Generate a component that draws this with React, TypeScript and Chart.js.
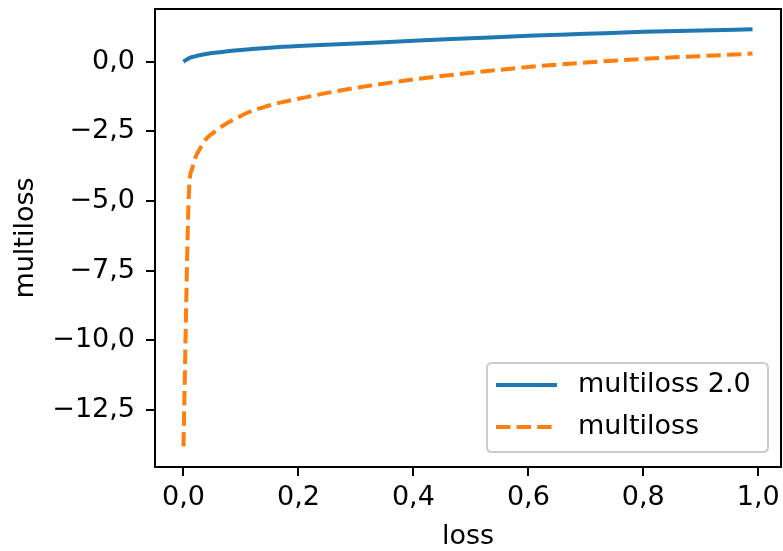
import { useEffect, useRef } from 'react';
import { Chart, registerables } from 'chart.js';

Chart.register(...registerables);

// ---- data ----
const blueLoss = [0, 0.01, 0.02, 0.03, 0.05, 0.07, 0.1, 0.15, 0.2, 0.3, 0.4, 0.5, 0.6, 0.7, 0.8, 0.9, 0.99];
const blueValues = [0.0, 0.13, 0.19, 0.24, 0.31, 0.36, 0.42, 0.5, 0.56, 0.65, 0.75, 0.84, 0.93, 1.0, 1.07, 1.12, 1.16];

const orangeLoss = [0, 0.01, 0.015, 0.02, 0.03, 0.04, 0.05, 0.07, 0.09, 0.11, 0.14, 0.17, 0.2, 0.25, 0.3, 0.4, 0.5, 0.6, 0.7, 0.8, 0.9, 0.99];
const orangeValues = [-13.8, -4.5, -3.85, -3.48, -3.07, -2.76, -2.58, -2.28, -2.05, -1.84, -1.63, -1.46, -1.33, -1.12, -0.94, -0.64, -0.4, -0.19, -0.03, 0.1, 0.2, 0.29];

const seriesLabels = ['multiloss 2.0', 'multiloss'];
const seriesColors = ['#1f77b4', '#ff7f0e'];

const xTicks = [0, 0.2, 0.4, 0.6, 0.8, 1.0];
const yTicks = [0, -2.5, -5, -7.5, -10, -12.5];

const xTitle = 'loss';
const yTitle = 'multiloss';

const FONT_FAMILY = "'DejaVu Sans', sans-serif";
const FONT_SIZE = 27;

const fmt = (v: number) => v.toFixed(1).replace('.', ',').replace('-', '\u2212');

const framePlugin = {
  id: 'frameAndLegend',
  afterDraw(chart: any) {
    const { ctx, chartArea: a } = chart;
    ctx.save();
    ctx.strokeStyle = '#000';
    ctx.lineWidth = 2;
    ctx.setLineDash([]);
    ctx.strokeRect(a.left, a.top, a.right - a.left, a.bottom - a.top);

    const w = 281;
    const h = 89;
    const x0 = a.right - 13 - w;
    const y0 = a.bottom - 15 - h;
    const r = 5;
    ctx.beginPath();
    ctx.moveTo(x0 + r, y0);
    ctx.lineTo(x0 + w - r, y0);
    ctx.quadraticCurveTo(x0 + w, y0, x0 + w, y0 + r);
    ctx.lineTo(x0 + w, y0 + h - r);
    ctx.quadraticCurveTo(x0 + w, y0 + h, x0 + w - r, y0 + h);
    ctx.lineTo(x0 + r, y0 + h);
    ctx.quadraticCurveTo(x0, y0 + h, x0, y0 + h - r);
    ctx.lineTo(x0, y0 + r);
    ctx.quadraticCurveTo(x0, y0, x0 + r, y0);
    ctx.closePath();
    ctx.fillStyle = 'rgba(255,255,255,0.8)';
    ctx.fill();
    ctx.strokeStyle = '#cccccc';
    ctx.lineWidth = 2;
    ctx.stroke();

    chart.data.datasets.forEach((ds: any, i: number) => {
      const y = y0 + 22 + i * 42;
      ctx.beginPath();
      ctx.strokeStyle = ds.borderColor;
      ctx.lineWidth = 4;
      ctx.setLineDash(ds.borderDash || []);
      ctx.moveTo(x0 + 9, y);
      ctx.lineTo(x0 + 70, y);
      ctx.stroke();
      ctx.setLineDash([]);
      ctx.fillStyle = '#000';
      ctx.font = `${FONT_SIZE}px ${FONT_FAMILY}`;
      ctx.textBaseline = 'middle';
      ctx.textAlign = 'left';
      ctx.fillText(ds.label, x0 + 91, y);
    });
    ctx.restore();
  },
};

export default function App() {
  const ref = useRef<HTMLCanvasElement | null>(null);

  useEffect(() => {
    document.body.style.margin = '0';
    const canvas = ref.current;
    if (!canvas) return;

    const chart = new Chart(canvas, {
      type: 'line',
      data: {
        datasets: [
          {
            label: seriesLabels[0],
            data: blueLoss.map((x, i) => ({ x, y: blueValues[i] })),
            borderColor: seriesColors[0],
            backgroundColor: seriesColors[0],
            borderWidth: 4,
            pointRadius: 0,
            cubicInterpolationMode: 'monotone',
            fill: false,
          },
          {
            label: seriesLabels[1],
            data: orangeLoss.map((x, i) => ({ x, y: orangeValues[i] })),
            borderColor: seriesColors[1],
            backgroundColor: seriesColors[1],
            borderWidth: 4,
            borderDash: [14.4, 6.2],
            pointRadius: 0,
            cubicInterpolationMode: 'monotone',
            fill: false,
          },
        ],
      },
      options: {
        animation: false,
        responsive: false,
        maintainAspectRatio: false,
        layout: { padding: { top: 9, right: 2, left: 0, bottom: 0 } },
        plugins: {
          legend: { display: false },
          tooltip: { enabled: false },
        },
        scales: {
          x: {
            type: 'linear',
            min: -0.0495,
            max: 1.0395,
            afterBuildTicks: (scale: any) => {
              scale.ticks = xTicks.map((v) => ({ value: v }));
            },
            afterFit: (scale: any) => {
              scale.height = 84;
              scale.paddingLeft = 0;
              scale.paddingRight = 0;
            },
            border: { display: false },
            grid: {
              display: true,
              drawOnChartArea: false,
              drawTicks: true,
              tickLength: 9,
              color: '#000',
              lineWidth: 2,
            },
            ticks: {
              color: '#000',
              padding: 6,
              maxRotation: 0,
              font: { family: FONT_FAMILY, size: FONT_SIZE },
              callback: (v: any) => fmt(Number(v)),
            },
            title: {
              display: true,
              text: xTitle,
              color: '#000',
              font: { family: FONT_FAMILY, size: FONT_SIZE },
              padding: { top: 0, bottom: -2 },
            },
          },
          y: {
            type: 'linear',
            min: -14.54,
            max: 1.89,
            afterBuildTicks: (scale: any) => {
              scale.ticks = yTicks.map((v) => ({ value: v }));
            },
            afterFit: (scale: any) => {
              scale.width = 155;
              scale.paddingTop = 0;
              scale.paddingBottom = 0;
            },
            border: { display: false },
            grid: {
              display: true,
              drawOnChartArea: false,
              drawTicks: true,
              tickLength: 9,
              color: '#000',
              lineWidth: 2,
            },
            ticks: {
              color: '#000',
              padding: 11,
              font: { family: FONT_FAMILY, size: FONT_SIZE },
              callback: (v: any) => fmt(Number(v)),
            },
            title: {
              display: true,
              text: yTitle,
              color: '#000',
              font: { family: FONT_FAMILY, size: FONT_SIZE },
              padding: { top: 10, bottom: 0 },
            },
          },
        },
      } as any,
      plugins: [framePlugin],
    });

    return () => chart.destroy();
  }, []);

  return (
    <div style={{ width: 783, height: 551 }}>
      <canvas ref={ref} width={783} height={551} style={{ display: 'block', width: 783, height: 551 }} />
    </div>
  );
}
